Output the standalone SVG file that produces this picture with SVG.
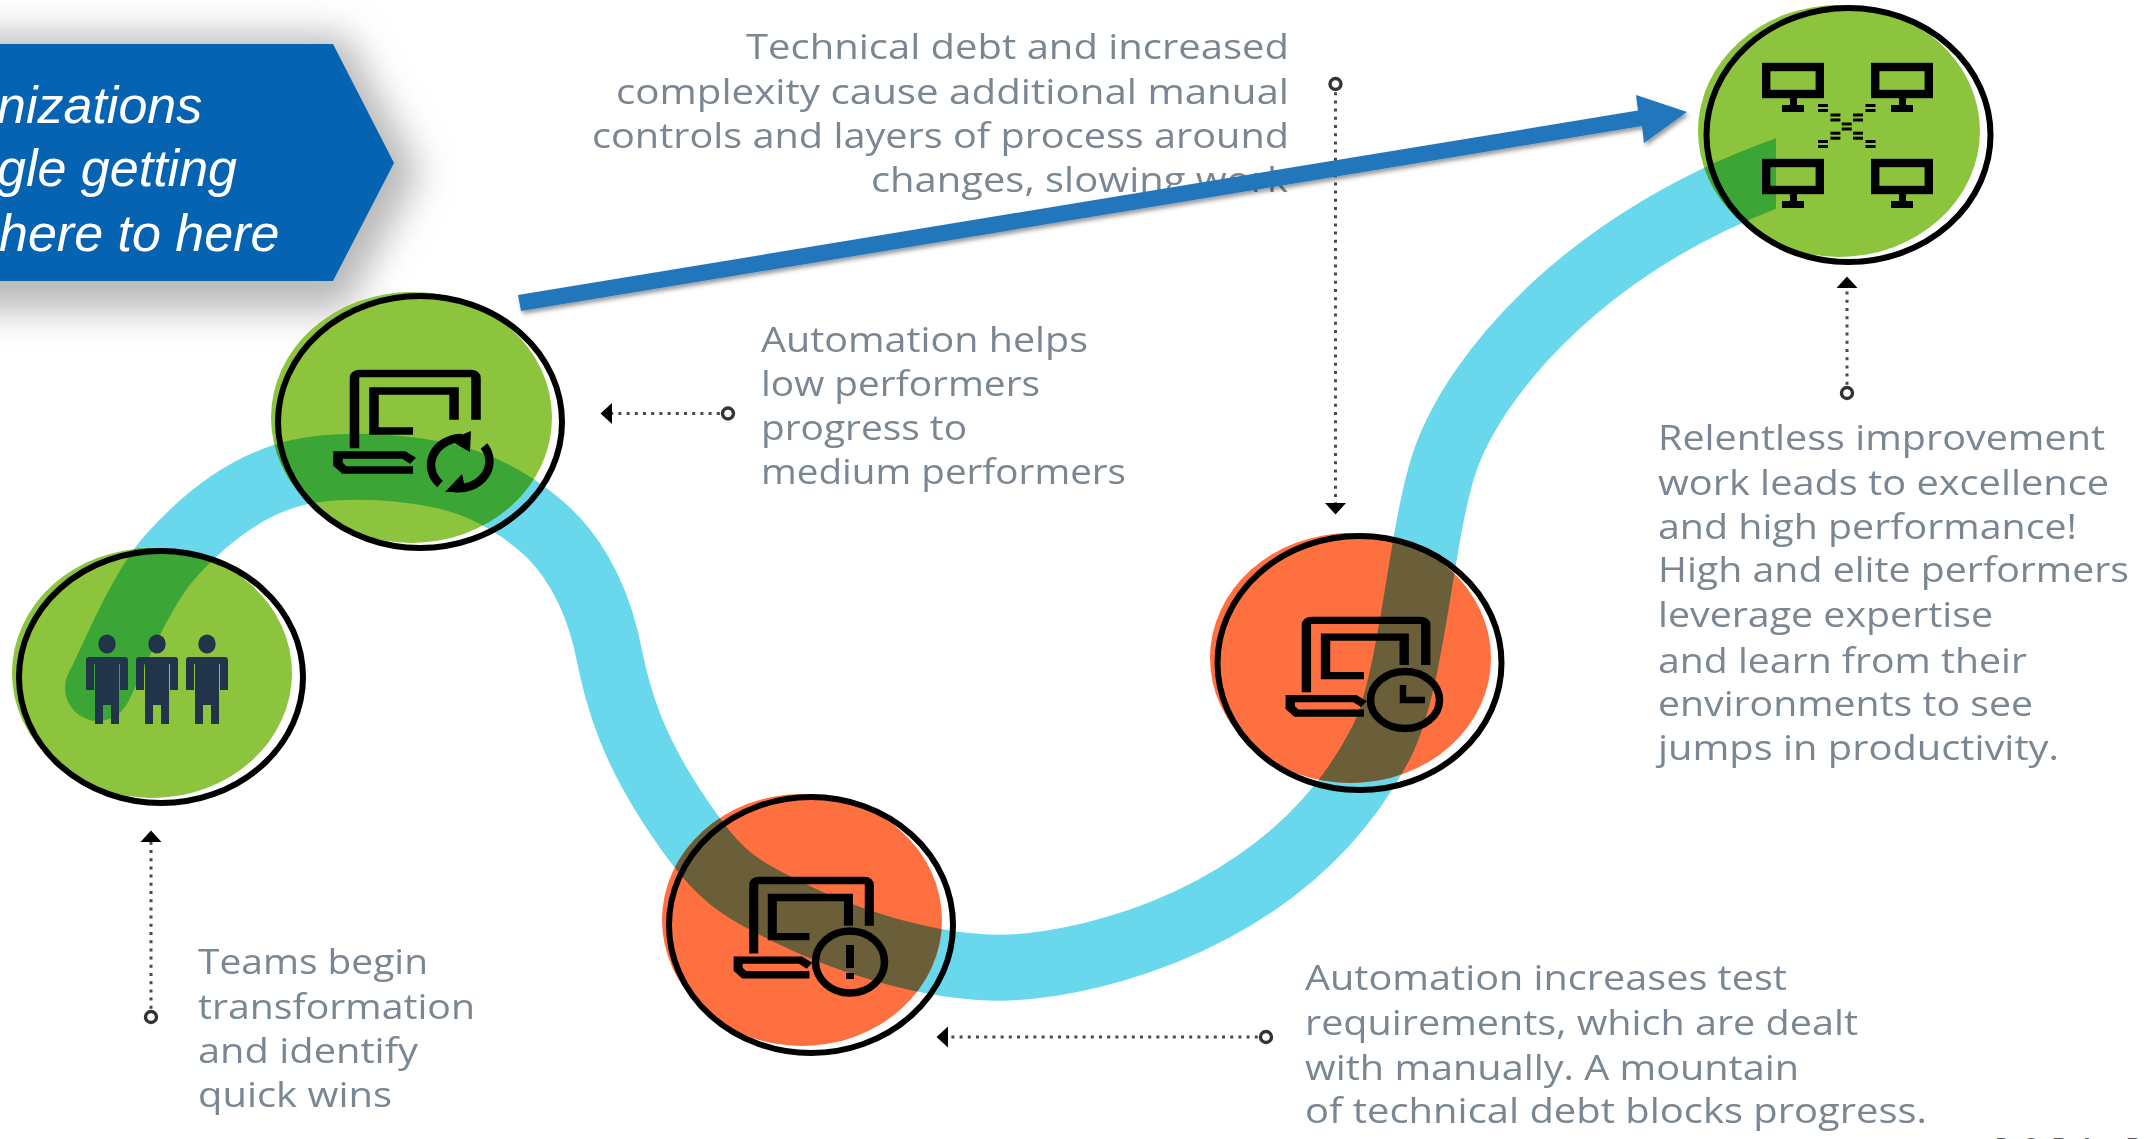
<svg xmlns="http://www.w3.org/2000/svg" xmlns:xlink="http://www.w3.org/1999/xlink" width="2151" height="1139" viewBox="0 0 2151 1139">
<style>
.body{font-family:"Open Sans","Noto Sans",sans-serif;font-size:34px;fill:#7a8793}
.callout{font-family:"Liberation Sans",Arial,sans-serif;font-style:italic;font-size:52px;fill:#fff}
.src{font-family:"Liberation Sans",Arial,sans-serif;font-weight:700;font-size:19px;letter-spacing:14px;fill:#555}
.dot{fill:none;stroke:#4a4a4a;stroke-width:3;stroke-dasharray:3 5.2}
.outline{fill:none;stroke:#000;stroke-width:6}
.green{fill:#8cc43e}.orange{fill:#fe7040}
.band{fill:none;stroke-width:66;stroke-linecap:butt}
.ln{fill:none;stroke:#000;stroke-width:8.500}
</style>
<defs>
<path id="ribbon" d="M98 688C110 666 139 592 170 557C201 522 241 490 285 476C329 462 392 466 435 474C478 482 513 502 540 525C570 550 594 590 606 640C617 690 625 745 695 840C720 874 740 888 772 904C850 945 950 975 1030 966C1130 955 1300 900 1381 743C1412 683 1420 540 1443 467C1472 375 1590 235 1800 165"/>
<marker id="tip" markerUnits="userSpaceOnUse" viewBox="0 -11 12 22" refX="0" refY="0" markerWidth="12" markerHeight="22" orient="auto"><path d="M0 -10.5L11.5 0L0 10.5Z" fill="#000"/></marker>
<marker id="ring" markerUnits="userSpaceOnUse" viewBox="-8 -8 16 16" refX="0" refY="0" markerWidth="16" markerHeight="16"><circle r="5.500" fill="#fff" stroke="#333" stroke-width="3.400"/></marker>
<filter id="soft" x="-30%" y="-50%" width="170%" height="220%"><feGaussianBlur stdDeviation="18"/></filter>
<filter id="arrowShadow" x="-2%" y="-20%" width="104%" height="150%"><feDropShadow dx="2" dy="3" stdDeviation="2" flood-color="#000" flood-opacity=".4"/></filter>
<filter id="txt" x="-3%" y="-10%" width="106%" height="120%"><feGaussianBlur stdDeviation="0.5"/></filter>
<clipPath id="c1"><ellipse cx="152" cy="673" rx="140" ry="125"/></clipPath>
<clipPath id="c2"><ellipse cx="411.5" cy="417.5" rx="140.5" ry="125.5"/></clipPath>
<clipPath id="c3"><ellipse cx="802" cy="920" rx="140" ry="126"/></clipPath>
<clipPath id="c4"><ellipse cx="1350.5" cy="658" rx="140.5" ry="125"/></clipPath>
<clipPath id="c5"><ellipse cx="1839" cy="131" rx="141" ry="126"/></clipPath>
<clipPath id="endCut"><rect x="1500" y="0" width="276" height="400"/></clipPath>
<g id="laptop" class="ln">
<path d="M4 88V9Q4 4 9 4H107.500Q112.500 4 112.500 9V56"/>
<path d="M92.900 56V23.600H21.400V68.500H56.300"/>
<path d="M56.300 112.400H-5L-10.700 106V95.500H48L56.300 102"/>
</g>
<g id="person" fill="#22344a"><ellipse cx="0" cy="0" rx="8.700" ry="9.500"/><path d="M-21 16Q-21 13-18 13H18Q21 13 21 16V46H13V20H12V80H4V61H-4V80H-12V20H-13V46H-21Z"/></g>
<g id="monitor"><rect x="4.200" y="4" width="53.600" height="27" fill="none" stroke="#000" stroke-width="8.400"/><rect x="28" y="35" width="7" height="8"/><rect x="20" y="42" width="22" height="7"/></g>
<g id="dash"><rect x="-5" y="-4" width="10" height="3"/><rect x="-5" y="1" width="10" height="3"/></g>
</defs>
<rect width="2151" height="1139" fill="#fff"/>

<g id="callout">
<polygon points="-80,35 345,35 420,172 345,310 -80,310" fill="#b8b8b8" filter="url(#soft)"/>
<polygon points="-5,44 333,44 394,163 333,281 -5,281" fill="#0563b1"/>
<text class="callout" x="-3" y="123">nizations</text>
<text class="callout" x="-3" y="186">gle getting</text>
<text class="callout" x="-1" y="251">here to here</text>
</g>

<g id="path-ribbon"><use xlink:href="#ribbon" href="#ribbon" class="band" stroke="#6ad8ec"/><circle cx="98" cy="688" r="33" fill="#6ad8ec"/></g>

<g id="labels" filter="url(#txt)">
<g id="label-debt">
<text class="body" x="746" y="59" textLength="543" lengthAdjust="spacingAndGlyphs">Technical debt and increased</text>
<text class="body" x="616" y="104" textLength="673" lengthAdjust="spacingAndGlyphs">complexity cause additional manual</text>
<text class="body" x="592" y="148" textLength="697" lengthAdjust="spacingAndGlyphs">controls and layers of process around</text>
<text class="body" x="871" y="192" textLength="417" lengthAdjust="spacingAndGlyphs">changes, slowing work</text>
</g>
<g id="label-auto">
<text class="body" x="761" y="352" textLength="327" lengthAdjust="spacingAndGlyphs">Automation helps</text>
<text class="body" x="761" y="396" textLength="279" lengthAdjust="spacingAndGlyphs">low performers</text>
<text class="body" x="761" y="440" textLength="206" lengthAdjust="spacingAndGlyphs">progress to</text>
<text class="body" x="761" y="484" textLength="365" lengthAdjust="spacingAndGlyphs">medium performers</text>
</g>
<g id="label-teams">
<text class="body" x="198" y="974" textLength="230" lengthAdjust="spacingAndGlyphs">Teams begin</text>
<text class="body" x="198" y="1019" textLength="277" lengthAdjust="spacingAndGlyphs">transformation</text>
<text class="body" x="198" y="1063" textLength="220" lengthAdjust="spacingAndGlyphs">and identify</text>
<text class="body" x="198" y="1107" textLength="194" lengthAdjust="spacingAndGlyphs">quick wins</text>
</g>
<g id="label-tests">
<text class="body" x="1305" y="990" textLength="482" lengthAdjust="spacingAndGlyphs">Automation increases test</text>
<text class="body" x="1305" y="1035" textLength="553" lengthAdjust="spacingAndGlyphs">requirements, which are dealt</text>
<text class="body" x="1305" y="1080" textLength="494" lengthAdjust="spacingAndGlyphs">with manually. A mountain</text>
<text class="body" x="1305" y="1123" textLength="622" lengthAdjust="spacingAndGlyphs">of technical debt blocks progress.</text>
</g>
<g id="label-improve">
<text class="body" x="1658" y="450" textLength="447" lengthAdjust="spacingAndGlyphs">Relentless improvement</text>
<text class="body" x="1658" y="495" textLength="451" lengthAdjust="spacingAndGlyphs">work leads to excellence</text>
<text class="body" x="1658" y="539" textLength="419" lengthAdjust="spacingAndGlyphs">and high performance!</text>
<text class="body" x="1658" y="582" textLength="471" lengthAdjust="spacingAndGlyphs">High and elite performers</text>
<text class="body" x="1658" y="627" textLength="335" lengthAdjust="spacingAndGlyphs">leverage expertise</text>
<text class="body" x="1658" y="673" textLength="369" lengthAdjust="spacingAndGlyphs">and learn from their</text>
<text class="body" x="1658" y="716" textLength="375" lengthAdjust="spacingAndGlyphs">environments to see</text>
<text class="body" x="1658" y="760" textLength="401" lengthAdjust="spacingAndGlyphs">jumps in productivity.</text>
</g>
</g>
<text id="source" class="src" x="1996" y="1151">DORA R</text>

<g id="connectors">
<path class="dot" d="M151 1017V842" marker-start="url(#ring)" marker-end="url(#tip)"/>
<path class="dot" d="M728 413.500H612" marker-start="url(#ring)" marker-end="url(#tip)"/>
<path class="dot" d="M1335.500 84V503" marker-start="url(#ring)" marker-end="url(#tip)"/>
<path class="dot" d="M1847 393V288" marker-start="url(#ring)" marker-end="url(#tip)"/>
<path class="dot" d="M1266 1037H948" marker-start="url(#ring)" marker-end="url(#tip)"/>
</g>

<g id="node-teams">
<ellipse class="green" cx="152" cy="673" rx="140" ry="125"/>
<g clip-path="url(#c1)"><use xlink:href="#ribbon" href="#ribbon" class="band" stroke="#3ba535"/><circle cx="98" cy="688" r="33" fill="#3ba535"/></g>
<use xlink:href="#person" href="#person" x="107" y="644"/>
<use xlink:href="#person" href="#person" x="157" y="644"/>
<use xlink:href="#person" href="#person" x="207" y="644"/>
<ellipse class="outline" cx="161" cy="677" rx="142" ry="126"/>
</g>

<g id="node-low">
<ellipse class="green" cx="411.5" cy="417.5" rx="140.5" ry="125.5"/>
<g clip-path="url(#c2)"><use xlink:href="#ribbon" href="#ribbon" class="band" stroke="#3ba535"/></g>
<use xlink:href="#laptop" href="#laptop" transform="translate(350 370) scale(1.12 .89)"/>
<g class="ln"><path d="M462 438A31 27 0 0 0 440 484"/><path d="M484 446A31 27 0 0 1 454 488"/><path d="M471 431L470 452L449 440Z" fill="#000" stroke="none"/><path d="M445 492L466 492L462 474Z" fill="#000" stroke="none"/></g>
<ellipse class="outline" cx="420" cy="422" rx="142" ry="126"/>
</g>

<g id="node-manual">
<ellipse class="orange" cx="802" cy="920" rx="140" ry="126"/>
<g clip-path="url(#c3)"><use xlink:href="#ribbon" href="#ribbon" class="band" stroke="#6b5f3a"/></g>
<use xlink:href="#laptop" href="#laptop" transform="translate(749.500 877) scale(1.065 .87)"/>
<ellipse cx="850" cy="962" rx="34.500" ry="31" fill="none" stroke="#000" stroke-width="7.500"/>
<path d="M850 945V968M850 973V979" stroke="#000" stroke-width="8" fill="none"/>
<ellipse class="outline" cx="811" cy="925" rx="142" ry="128"/>
</g>

<g id="node-debt">
<ellipse class="orange" cx="1350.5" cy="658" rx="140.5" ry="125"/>
<g clip-path="url(#c4)"><use xlink:href="#ribbon" href="#ribbon" class="band" stroke="#6b5f3a"/></g>
<use xlink:href="#laptop" href="#laptop" transform="translate(1302 617) scale(1.1 .855)"/>
<ellipse cx="1405" cy="700" rx="34.500" ry="28.500" fill="none" stroke="#000" stroke-width="7.500"/>
<path d="M1403 685V700H1425" stroke="#000" stroke-width="6.500" fill="none"/>
<ellipse class="outline" cx="1359.5" cy="663" rx="142" ry="127"/>
</g>

<g id="node-elite">
<ellipse class="green" cx="1839" cy="131" rx="141" ry="126"/>
<g clip-path="url(#c5)"><g clip-path="url(#endCut)"><use xlink:href="#ribbon" href="#ribbon" class="band" stroke="#3ba535"/></g></g>
<use xlink:href="#monitor" href="#monitor" x="1762" y="63"/>
<use xlink:href="#monitor" href="#monitor" x="1871" y="63"/>
<use xlink:href="#monitor" href="#monitor" x="1762" y="159"/>
<use xlink:href="#monitor" href="#monitor" x="1871" y="159"/>
<use xlink:href="#dash" href="#dash" x="1823" y="108"/>
<use xlink:href="#dash" href="#dash" x="1835.4" y="117.5"/>
<use xlink:href="#dash" href="#dash" x="1846.7" y="126.5"/>
<use xlink:href="#dash" href="#dash" x="1858" y="117.5"/>
<use xlink:href="#dash" href="#dash" x="1870.5" y="108"/>
<use xlink:href="#dash" href="#dash" x="1835.4" y="135.7"/>
<use xlink:href="#dash" href="#dash" x="1823" y="144"/>
<use xlink:href="#dash" href="#dash" x="1858" y="135.7"/>
<use xlink:href="#dash" href="#dash" x="1870.5" y="144"/>
<ellipse class="outline" cx="1848.5" cy="135" rx="142" ry="127"/>
</g>

<g id="journey-arrow"><polygon points="518,295 1638,110.5 1636,95 1687,112 1644,143 1642,126 521,311" fill="#2276bc" filter="url(#arrowShadow)"/></g>
</svg>
